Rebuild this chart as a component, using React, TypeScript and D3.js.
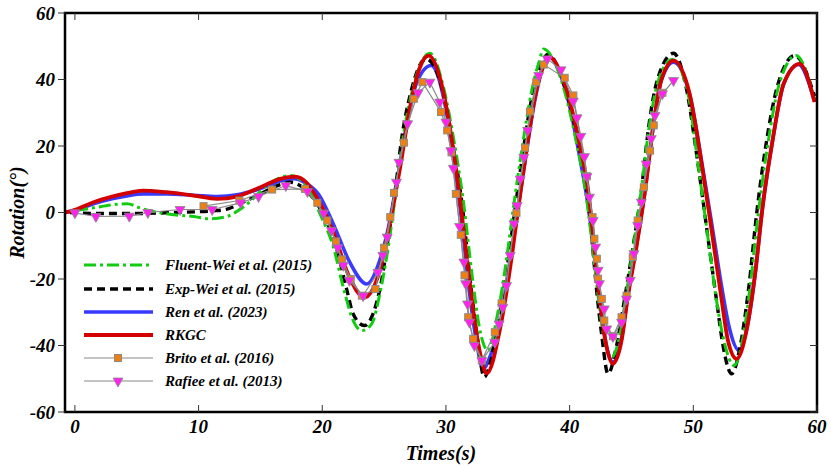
import React from "react";
import * as d3 from "d3";

// chart values, [time (s), rotation (deg)]
const rkgc: [number, number][] = [
  [-0.8, 0], [0, 0.8], [1.5, 3.1], [3, 4.8], [4.2, 5.8], [5.5, 6.6], [7.4, 6.1], [9.6, 5.1],
  [11.5, 4.1], [13.1, 4.8], [15, 7.6], [16.6, 10.1], [17.8, 10.8], [18.7, 9.1], [19.6, 4.2],
  [20.9, -5.9], [22.2, -19.5], [23.4, -25.5], [24.65, -17.4], [25.3, -6.3], [26.3, 13.6],
  [27.1, 31.7], [27.9, 43.7], [28.6, 47.2], [29.5, 40.7], [30.3, 26], [31.0, 8], [31.7, -14],
  [32.3, -32], [32.8, -43], [33.3, -48.4], [34.4, -34.5], [35.2, -16.4], [35.8, 0], [36.5, 18.6],
  [37.2, 34.7], [37.9, 44.2], [38.4, 46.7], [39.2, 42.7], [40.0, 33.7], [40.8, 20.7], [41.5, 6.6],
  [42.0, -10.4], [42.4, -24.5], [42.8, -36.5], [43.5, -45.5], [44.2, -38.5], [44.7, -25.5],
  [45.4, -10.4], [46.1, 6.6], [46.75, 25.7], [47.4, 39.7], [48.4, 45.7], [49.7, 35.7], [50.8, 11.6],
  [51.6, -8.4], [52.3, -26.5], [52.8, -38.5], [53.5, -44], [54.3, -35.5], [55.0, -18.4], [55.6, 1.6],
  [56.45, 22.6], [57.3, 38.7], [58.6, 44.7], [59.8, 33.2],
];

const ren: [number, number][] = [
  [-0.8, 0], [0, 0.6], [1.5, 2.6], [3, 4.1], [4.2, 5], [5.5, 5.6], [7.4, 5.6], [9.6, 5.2],
  [11.5, 4.8], [13.1, 5.3], [15, 7.2], [16.6, 9.5], [17.7, 10.2], [18.7, 8.8], [19.7, 5.5],
  [20.9, -3.5], [22.2, -14.8], [23.6, -21.5], [24.65, -14.4], [25.3, -5.4], [26, 8.6], [26.8, 25.7],
  [27.6, 38.7], [28.8, 44.2], [29.8, 34.7], [30.6, 17], [31.3, -3.4], [31.9, -24], [32.5, -39.5],
  [33.0, -47], [33.6, -43], [34.4, -33], [35.2, -15], [35.8, 0.5], [36.5, 18], [37.2, 34],
  [37.9, 44.5], [38.3, 47], [39.2, 42], [40.0, 32], [40.8, 17], [41.5, 2], [42.0, -12], [42.4, -25],
  [42.8, -36.5], [43.5, -45], [44.2, -38], [44.7, -25], [45.4, -10], [46.1, 6.6], [46.75, 25.7],
  [47.4, 39.5], [48.4, 45.2], [49.7, 35.5], [50.8, 12.5], [51.6, -6], [52.3, -22.5], [52.9, -34.5],
  [53.7, -41.5], [54.4, -33.5], [55.0, -18.4], [55.6, 1.6], [56.45, 22.6], [57.3, 38.5],
  [58.5, 44.5], [59.8, 33.5],
];

const expWei: [number, number][] = [
  [-0.4, 0], [2, -0.3], [5, -0.3], [8, 0], [11.2, 0.5], [12.3, 1], [13.3, 2.6], [15.0, 5.6],
  [16.6, 8.4], [17.4, 9.1], [18.6, 7], [19.6, 2.5], [20.4, -3], [21.2, -11.4], [22.0, -23.5],
  [22.5, -30.5], [23.4, -34], [24.1, -30.5], [24.8, -20.4], [25.3, -8.4], [25.9, 6.6], [26.4, 21.7],
  [27.2, 36.7], [28.4, 46.2], [29.8, 35.7], [30.6, 19.6], [31.4, -0.4], [31.9, -18.4], [32.5, -36.5],
  [33.1, -49.5], [33.6, -45], [34.15, -34.5], [34.95, -16.4], [35.55, 0], [36.25, 18.6],
  [36.95, 34.7], [37.7, 44.5], [38.3, 47.7], [39.1, 43], [39.9, 34], [40.7, 21], [41.4, 6.6],
  [41.85, -10], [42.2, -24], [42.6, -37], [43.1, -48.5], [43.8, -40], [44.4, -27], [45.1, -11],
  [45.8, 6.6], [46.4, 26], [47.1, 40], [48.4, 47.9], [49.4, 38], [50.4, 14], [51.2, -8], [51.9, -27],
  [52.4, -40], [53.1, -48.5], [53.8, -40], [54.5, -22], [55.1, -1], [55.9, 21], [56.8, 38],
  [58.2, 47.2], [59.8, 35],
];

const fluentWei: [number, number][] = [
  [0.1, 0.6], [1.5, 1.4], [3, 2.3], [4.2, 2.6], [5.5, 1.1], [7.4, -0.4], [9.6, -1.2], [10.9, -1.9],
  [12.3, -1.2], [13.3, 0.8], [14.4, 4.1], [15.5, 8.1], [17.4, 11.1], [18.7, 8.1], [19.8, -0.3],
  [20.9, -10.4], [21.7, -22.5], [22.5, -32.5], [23.2, -35.5], [24.0, -33.5], [24.65, -24.5],
  [25.25, -12.4], [25.9, 4.6], [26.5, 21.7], [27.35, 37.7], [28.7, 47.9], [29.8, 37.7],
  [30.6, 22.6], [31.4, 3.6], [32.1, -18.4], [32.7, -34.5], [33.4, -41.5], [34.2, -30], [34.9, -14],
  [35.4, 0], [36.1, 18], [36.9, 36], [37.5, 45], [37.9, 49.2], [38.8, 45], [39.7, 35], [40.5, 22],
  [41.3, 6], [41.9, -12], [42.3, -25], [42.7, -36], [43.4, -43.5], [44.1, -36], [44.6, -24],
  [45.2, -9], [45.8, 7], [46.4, 25], [47.2, 40], [48.3, 46], [49.5, 37], [50.4, 14], [51.2, -8],
  [51.9, -27], [52.5, -39], [53.3, -46], [54.0, -38], [54.6, -22], [55.2, -2], [56.0, 20],
  [56.9, 38], [58.3, 47.2], [59.8, 34],
];

const brito: [number, number][] = [
  [10.4, 1.9], [13.3, 3.6], [15.95, 6.9], [18.6, 7.1], [19.6, 2.9], [20.4, -2.4], [21.1, -8.7],
  [21.6, -14.1], [22.3, -20], [23.2, -25], [24.3, -23], [25.0, -10.6], [25.5, -1.4], [25.8, 5.9],
  [26.6, 21], [27.4, 34.2], [28.1, 39.2], [29.6, 30.2], [30.1, 24.7], [30.45, 18.1], [30.8, 5.6],
  [31.2, -6.7], [31.5, -18.9], [31.8, -31.5], [32.2, -38], [32.9, -44.5], [33.95, -36],
  [34.5, -27.3], [35.7, -0.1], [36.4, 19.5], [36.8, 30.4], [37.3, 39.2], [37.9, 44.5],
  [39.6, 40.5], [40.3, 35.2], [41.4, 10.9], [41.85, -1.4], [42.0, -7.9], [42.2, -13.9],
  [42.3, -19.9], [42.6, -26], [42.8, -32.5], [43.5, -37.2], [44.2, -31.5], [44.6, -25],
  [45.1, -13.4], [45.5, -2.4], [46.0, 7.6], [46.5, 18.6], [46.8, 26.2], [47.5, 36],
];

const rafiee: [number, number][] = [
  [0, -0.1], [1.7, -1.2], [4.4, -1.1], [5.9, 0], [8.5, 0.9], [11.1, 0.9], [13.4, 2.9],
  [14.85, 4.8], [17.05, 8.1], [18.8, 6.3], [20.1, -0.2], [20.75, -5.4], [21.25, -10.6],
  [21.7, -15.9], [22.2, -20.4], [23.3, -25], [24.5, -18], [24.9, -12.9], [25.25, -7.4], [26.0, 9.1],
  [26.2, 15.1], [26.9, 26.7], [27.75, 36], [28.7, 39.2], [29.5, 33.2], [30.0, 27.2], [30.4, 18.6],
  [30.6, 13.3], [31.1, -4.2], [31.45, -14.9], [31.6, -21.4], [31.75, -27.5], [31.9, -33],
  [32.3, -40], [32.9, -44.5], [33.95, -39], [34.3, -33.5], [34.6, -28.5], [34.9, -22], [35.2, -12.9],
  [35.5, -3.4], [35.75, 2.1], [36.0, 10.1], [36.3, 16.6], [36.6, 24.7], [37.5, 41.2], [38.2, 46.2],
  [39.3, 42.9], [40.3, 33.5], [40.6, 28.5], [40.9, 22.9], [41.2, 16.8], [41.4, 10.8], [41.6, 4.6],
  [41.9, -2.4], [42.1, -10.4], [42.3, -17.4], [42.4, -21.4], [42.8, -29], [43.0, -35], [43.5, -37.3],
  [44.2, -33], [44.6, -26], [44.9, -20.4], [45.2, -12.4], [45.5, -3.9], [45.8, 3.1], [46.2, 14.6],
  [46.6, 22.2], [46.9, 29.2], [47.5, 35.7], [48.4, 39.7],
];

const xTicks = [0, 10, 20, 30, 40, 50, 60];
const yTicks = [-60, -40, -20, 0, 20, 40, 60];

const legendNames = [
  "Fluent-Wei et al. (2015)",
  "Exp-Wei et al. (2015)",
  "Ren et al. (2023)",
  "RKGC",
  "Brito et al. (2016)",
  "Rafiee et al. (2013)",
];

const W = 831;
const H = 468;
const left = 65, right = 817, top = 13, bottom = 412;
const font = "'Liberation Serif', 'Times New Roman', serif";

const GREEN = "#11cc11";
const BLUE = "#3a3aff";
const RED = "#d40000";
const ORANGE = "#f07f10";
const MAGENTA = "#ff22ee";
const GRAY = "#8a8a8a";

export default function App() {
  const x = d3.scaleLinear().domain([-0.8, 60]).range([left, right]);
  const y = d3.scaleLinear().domain([-60, 60]).range([bottom, top]);

  const smooth = d3
    .line<[number, number]>()
    .x((d) => x(d[0]))
    .y((d) => y(d[1]))
    .curve(d3.curveMonotoneX);
  const straight = d3
    .line<[number, number]>()
    .x((d) => x(d[0]))
    .y((d) => y(d[1]));

  const tri = (cx: number, cy: number, s = 5) =>
    `M${cx - s},${cy - s * 0.8}L${cx + s},${cy - s * 0.8}L${cx},${cy + s}Z`;

  const legendY = [265, 289, 312, 335, 358, 381];
  const lx0 = 84, lx1 = 153, lmid = 118, ltext = 165;

  return (
    <svg
      width={W}
      height={H}
      style={{ position: "absolute", left: 0, top: 0, background: "#fff" }}
    >
      <defs>
        <clipPath id="plot">
          <rect x={left} y={top} width={right - left} height={bottom - top} />
        </clipPath>
      </defs>

      <g clipPath="url(#plot)" fill="none">
        <path d={smooth(ren)!} stroke={BLUE} strokeWidth={3.6} />
        <path d={smooth(expWei)!} stroke="#000" strokeWidth={3.4} strokeDasharray="8,5" />
        <path d={smooth(fluentWei)!} stroke={GREEN} strokeWidth={3} strokeDasharray="12,4,3,4" />
        <path d={smooth(rkgc)!} stroke={RED} strokeWidth={3.8} />
        <path d={straight(brito)!} stroke={GRAY} strokeWidth={1.2} />
        <path d={straight(rafiee)!} stroke={GRAY} strokeWidth={1.2} />
        {brito.map((d, i) => (
          <rect
            key={"b" + i}
            x={x(d[0]) - 3.5}
            y={y(d[1]) - 3.5}
            width={7}
            height={7}
            fill={ORANGE}
            stroke={GRAY}
            strokeWidth={1}
          />
        ))}
        {rafiee.map((d, i) => (
          <path
            key={"r" + i}
            d={tri(x(d[0]), y(d[1]) + 1)}
            fill={MAGENTA}
            stroke={GRAY}
            strokeWidth={0.8}
          />
        ))}
      </g>

      {/* frame */}
      <rect
        x={left}
        y={top}
        width={right - left}
        height={bottom - top}
        fill="none"
        stroke="#000"
        strokeWidth={2.5}
      />

      {/* ticks */}
      {xTicks.map((t) => (
        <g key={"xt" + t} stroke="#333" strokeWidth={1}>
          <line x1={x(t)} x2={x(t)} y1={top} y2={top + 7} />
          <line x1={x(t)} x2={x(t)} y1={bottom} y2={bottom - 7} />
        </g>
      ))}
      {yTicks.map((t) => (
        <g key={"yt" + t} stroke="#333" strokeWidth={1}>
          <line x1={left - 7} x2={left} y1={y(t)} y2={y(t)} />
          <line x1={right - 7} x2={right} y1={y(t)} y2={y(t)} />
        </g>
      ))}

      <g fontFamily={font} fontWeight="bold" fontStyle="italic" fontSize={19} fill="#000">
        {xTicks.map((t) => (
          <text key={"xl" + t} x={x(t)} y={433} textAnchor="middle">
            {t}
          </text>
        ))}
        {yTicks.map((t) => (
          <text key={"yl" + t} x={55} y={y(t) + 6.5} textAnchor="end">
            {t}
          </text>
        ))}
        <text x={(left + right) / 2} y={460} textAnchor="middle" fontSize={20}>
          Times(s)
        </text>
        <text
          transform={`translate(24,${(top + bottom) / 2}) rotate(-90)`}
          textAnchor="middle"
          fontSize={20}
        >
          Rotation(°)
        </text>
      </g>

      {/* legend */}
      <g fill="none">
        <line x1={lx0} x2={lx1} y1={legendY[0]} y2={legendY[0]} stroke={GREEN} strokeWidth={3} strokeDasharray="12,4,3,4" />
        <line x1={lx0} x2={lx1} y1={legendY[1]} y2={legendY[1]} stroke="#000" strokeWidth={3.4} strokeDasharray="8,5" />
        <line x1={lx0} x2={lx1} y1={legendY[2]} y2={legendY[2]} stroke={BLUE} strokeWidth={3.6} />
        <line x1={lx0} x2={lx1} y1={legendY[3]} y2={legendY[3]} stroke={RED} strokeWidth={3.8} />
        <line x1={lx0} x2={lx1} y1={legendY[4]} y2={legendY[4]} stroke={GRAY} strokeWidth={1.2} />
        <rect x={lmid - 3.5} y={legendY[4] - 3.5} width={7} height={7} fill={ORANGE} stroke={GRAY} />
        <line x1={lx0} x2={lx1} y1={legendY[5]} y2={legendY[5]} stroke={GRAY} strokeWidth={1.2} />
        <path d={tri(lmid, legendY[5] + 1)} fill={MAGENTA} stroke={GRAY} strokeWidth={0.8} />
      </g>
      <g fontFamily={font} fontWeight="bold" fontStyle="italic" fontSize={15} fill="#000">
        {legendNames.map((n, i) => (
          <text key={n} x={ltext} y={legendY[i] + 5}>
            {n}
          </text>
        ))}
      </g>
    </svg>
  );
}
